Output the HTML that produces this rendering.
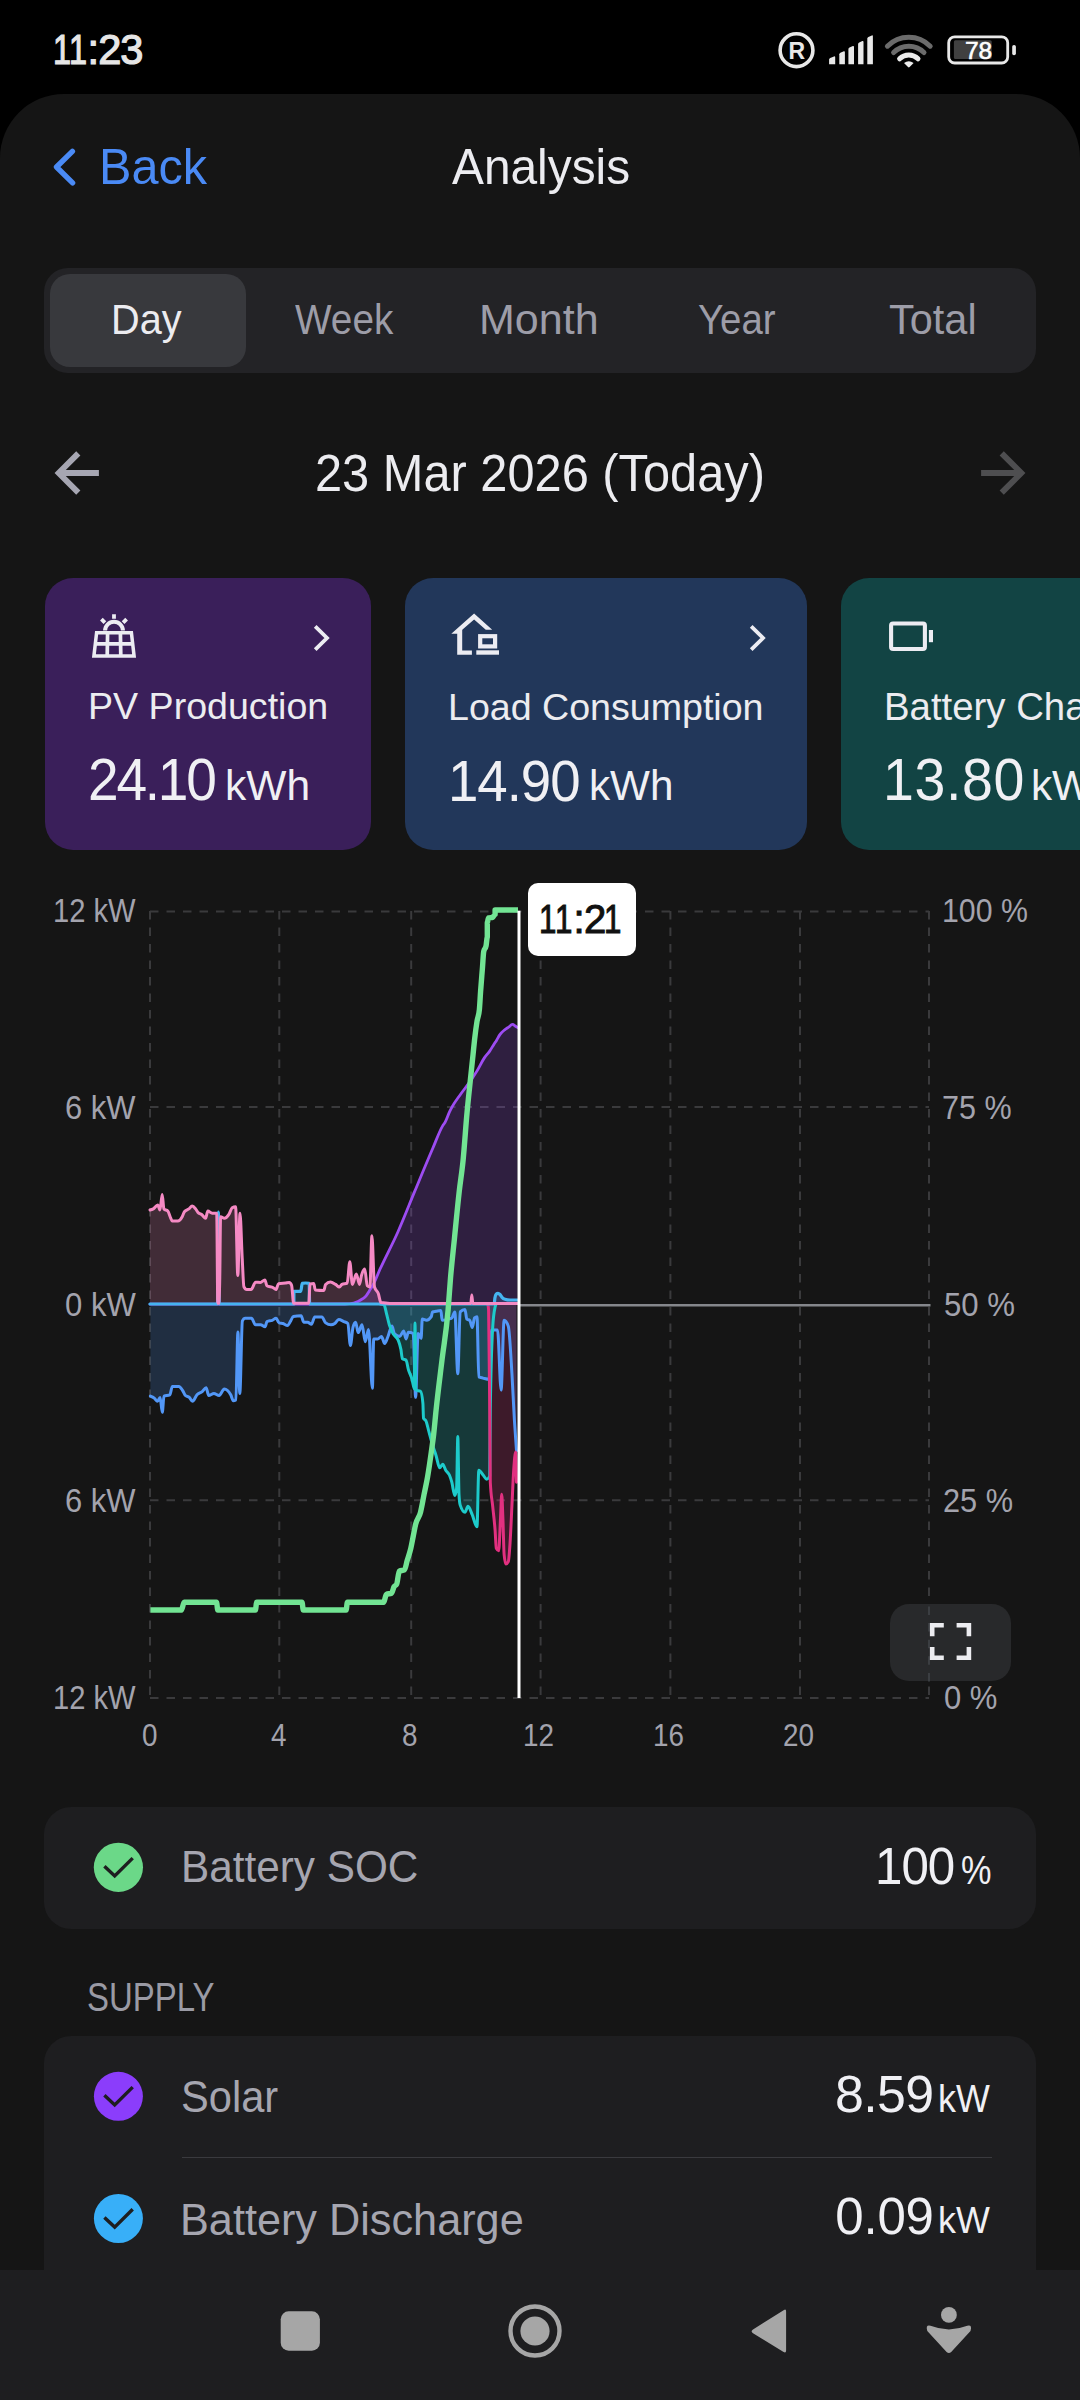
<!DOCTYPE html>
<html><head><meta charset="utf-8">
<title>Analysis</title>
<style>
*{margin:0;padding:0;box-sizing:border-box}
html,body{width:1080px;height:2400px;background:#000;overflow:hidden}
body{position:relative;font-family:"Liberation Sans",Arial,sans-serif;color:#ececf0}
.a{position:absolute}
.t{position:absolute;white-space:nowrap;line-height:1;transform-origin:0 0}
</style></head><body>
<!-- main sheet -->
<div class="a" style="left:0;top:94px;width:1080px;height:2306px;background:#151515;border-radius:64px 64px 0 0"></div>

<!-- status bar icons -->
<svg class="a" style="left:770px;top:25px" width="260" height="50" viewBox="770 25 260 50">
 <circle cx="796.5" cy="50.2" r="16.4" fill="none" stroke="#e8e8e8" stroke-width="3.6"/>
 <text x="796.7" y="58.6" font-family="Liberation Sans" font-weight="bold" font-size="23" fill="#e8e8e8" text-anchor="middle">R</text>
 <g fill="#e8e8e8">
  <path d="M829.1,64.2 V59.6 Q829.1,58.6 830.2,58.1 L834,56.4 Q835.2,56 835.2,57.3 V64.2 Z"/>
  <path d="M839.3,64.2 V54.3 Q839.3,53.3 840.4,52.8 L843.8,51.3 Q844.9,51 844.9,52.2 V64.2 Z"/>
  <path d="M848.4,64.2 V49 Q848.4,48 849.5,47.5 L852.9,46.1 Q854,45.8 854,47 V64.2 Z"/>
  <path d="M858.1,64.2 V43.9 Q858.1,42.9 859.2,42.4 L862.4,41 Q863.5,40.7 863.5,41.9 V64.2 Z"/>
  <path d="M867.3,64.2 V38.4 Q867.3,37.4 868.4,36.9 L871.8,35.4 Q872.9,35.1 872.9,36.3 V64.2 Z"/>
 </g>
 <g fill="none" stroke-linecap="round">
  <path d="M887.4,46.2 A30,30 0 0 1 930.2,46.2" stroke="#6b6b6b" stroke-width="5"/>
  <path d="M893.6,52.6 A21.5,21.5 0 0 1 924,52.6" stroke="#6b6b6b" stroke-width="5"/>
  <path d="M899.6,58.8 A13,13 0 0 1 918,58.8" stroke="#ececec" stroke-width="5"/>
 </g>
 <path d="M904,63 Q908.8,59.5 913.6,63 L909.6,67 Q908.8,67.8 908,67 Z" fill="#ececec"/>
 <rect x="948.7" y="36.8" width="59" height="26.2" rx="6" fill="none" stroke="#e8e8e8" stroke-width="2.8"/>
 <rect x="953.9" y="40.3" width="37.8" height="18.8" rx="1.5" fill="#404040"/>
 <text x="978.4" y="58.9" font-family="Liberation Sans" font-size="24.5" fill="#ffffff" stroke="#ffffff" stroke-width="0.6" text-anchor="middle" letter-spacing="-0.3">78</text>
 <rect x="1012.2" y="44.9" width="3.7" height="10.3" rx="1.8" fill="#e8e8e8"/>
</svg>

<!-- back chevron -->
<svg class="a" style="left:40px;top:140px" width="50" height="55" viewBox="40 140 50 55">
 <path d="M72.4,151.3 L56.5,167 L72.6,182.9" fill="none" stroke="#4a8af5" stroke-width="5.4" stroke-linecap="round" stroke-linejoin="round"/>
</svg>

<!-- tabs -->
<div class="a" style="left:44px;top:268px;width:992px;height:105px;background:#232326;border-radius:24px"></div>
<div class="a" style="left:50px;top:274px;width:196px;height:93px;background:#38393d;border-radius:20px"></div>

<!-- date arrows -->
<svg class="a" style="left:40px;top:440px" width="1000" height="70" viewBox="40 440 1000 70">
 <g fill="none" stroke-width="5.9" stroke-linejoin="miter" stroke-linecap="butt">
  <path d="M98.9,473 H59 M78.3,453.3 L58.7,473 L78.3,492.7" stroke="#a6a6b2"/>
  <path d="M981.1,473 H1021 M1001.7,453.3 L1021.3,473 L1001.7,492.7" stroke="#4e4e50"/>
 </g>
</svg>

<!-- cards -->
<div class="a" style="left:45px;top:578px;width:326px;height:272px;background:#3a1f5a;border-radius:28px"></div>
<div class="a" style="left:405px;top:578px;width:402px;height:272px;background:#22375a;border-radius:28px"></div>
<div class="a" style="left:841px;top:578px;width:300px;height:272px;background:#124444;border-radius:28px"></div>
<svg class="a" style="left:80px;top:600px" width="1000" height="70" viewBox="80 600 1000 70">
 <g fill="none" stroke="#ececf2" stroke-width="3.6">
  <!-- solar panel -->
  <path d="M96.6,632.7 H131.4 L134.1,656 H93.9 Z" stroke-width="3.5" stroke-linejoin="miter"/>
  <path d="M95.3,643.8 H132.7 M107.6,632.7 L107.2,656 M120.4,632.7 L120.8,656" stroke-width="3.7"/>
  <path d="M105.1,630.6 A8.9,8.9 0 0 1 122.9,630.6" stroke-width="4"/>
  <path d="M114,614.2 V618.8 M101.4,619.1 L104.9,622.6 M126.6,619.1 L123.1,622.6" stroke-width="3.8"/>
  <!-- chevrons -->
  <path d="M315.2,626.4 L327,638 L315.2,649.6" stroke-width="3.8"/>
  <path d="M751.2,626.4 L763,638 L751.2,649.6" stroke-width="3.8"/>
  <!-- house -->

  <rect x="480.2" y="636.2" width="14.9" height="10.2" stroke-width="4.2"/>
  <path d="M476.3,652.5 H499" stroke-width="4.4"/>
  <!-- battery -->
  <rect x="891.1" y="623.5" width="33.8" height="25.5" rx="2" stroke-width="4.1"/>
 </g>
 <rect x="928.9" y="630" width="4.1" height="12.2" fill="#ececf2"/>
 <path d="M451.3,633.8 L474.1,613.4 L492.2,629.7 L485.8,629.7 L474.1,619.4 L457.6,633.8 Z" fill="#ececf2"/>
 <path d="M457.2,632 V654.8 H471.9 V650.4 H462.2 V628.5 Z" fill="#ececf2"/>
</svg>

<!-- chart -->
<svg class="a" style="left:0;top:880px" width="1080" height="840" viewBox="0 880 1080 840"><g stroke="#3a3a3c" stroke-width="2" stroke-dasharray="8.5 8" fill="none">
<path d="M150,911 V1699"/>
<path d="M279.3,911 V1699"/>
<path d="M411.2,911 V1699"/>
<path d="M540.6,911 V1699"/>
<path d="M670.4,911 V1699"/>
<path d="M800,911 V1699"/>
<path d="M929,911 V1699"/>
<path d="M150,911.5 H929"/>
<path d="M150,1107 H929"/>
<path d="M150,1500.3 H929"/>
<path d="M150,1698 H929"/>
</g>
<path d="M150.0,1304.0 L150.00,1210.00 C151.10,1209.76 152.20,1209.51 153.30,1208.90 C154.80,1208.06 156.30,1205.00 157.80,1205.00 C158.53,1205.00 159.27,1210.00 160.00,1210.00 C160.73,1210.00 161.47,1194.40 162.20,1194.40 C162.77,1194.40 163.33,1208.29 163.90,1208.90 C165.20,1210.30 166.50,1209.60 167.80,1211.00 C168.73,1212.01 169.67,1215.79 170.60,1217.80 C171.13,1218.95 171.67,1221.00 172.20,1221.00 C174.07,1221.00 175.93,1221.00 177.80,1221.00 C179.27,1221.00 180.73,1219.40 182.20,1216.70 C182.93,1215.35 183.67,1212.61 184.40,1211.70 C185.90,1209.83 187.40,1210.06 188.90,1208.90 C190.00,1208.05 191.10,1206.00 192.20,1206.00 C193.33,1206.00 194.47,1207.49 195.60,1208.90 C196.33,1209.81 197.07,1211.31 197.80,1212.20 C199.27,1213.98 200.73,1213.79 202.20,1215.00 C203.33,1215.93 204.47,1218.30 205.60,1218.30 C206.33,1218.30 207.07,1211.00 207.80,1211.00 C209.27,1211.00 210.73,1213.30 212.20,1213.30 C213.70,1213.30 215.20,1213.30 216.70,1213.30 C217.07,1213.30 217.43,1303.30 217.80,1303.30 C218.33,1303.30 218.87,1303.20 219.40,1303.00 C219.80,1302.85 220.20,1216.70 220.60,1216.70 C221.87,1216.70 223.13,1218.30 224.40,1218.30 C225.90,1218.30 227.40,1216.68 228.90,1214.40 C230.00,1212.73 231.10,1208.51 232.20,1207.80 C233.33,1207.07 234.47,1206.70 235.60,1206.70 C236.33,1206.70 237.07,1275.60 237.80,1275.60 C238.53,1275.60 239.27,1213.30 240.00,1213.30 C240.73,1213.30 241.47,1244.30 242.20,1257.80 C242.77,1268.23 243.33,1285.61 243.90,1286.70 C244.83,1288.50 245.77,1289.40 246.70,1289.40 C248.17,1289.40 249.63,1289.40 251.10,1289.40 C252.60,1289.40 254.10,1282.20 255.60,1282.20 C257.20,1282.20 258.80,1282.50 260.40,1282.50 C261.90,1282.50 263.40,1279.90 264.90,1279.90 C265.57,1279.90 266.23,1285.28 266.90,1285.70 C269.03,1287.03 271.17,1286.40 273.30,1287.70 C274.17,1288.23 275.03,1289.60 275.90,1289.60 C276.77,1289.60 277.63,1284.00 278.50,1283.80 C280.87,1283.27 283.23,1283.30 285.60,1283.00 C286.83,1282.84 288.07,1282.50 289.30,1282.50 C290.07,1282.50 290.83,1283.43 291.60,1285.30 C291.90,1286.03 292.20,1290.10 292.50,1293.10 C292.80,1296.10 293.10,1303.30 293.40,1303.30 C298.50,1303.30 303.60,1303.30 308.70,1303.30 C309.17,1303.30 309.63,1284.03 310.10,1283.90 C311.33,1283.57 312.57,1283.40 313.80,1283.40 C314.27,1283.40 314.73,1289.85 315.20,1289.90 C318.13,1290.23 321.07,1290.40 324.00,1290.40 C324.47,1290.40 324.93,1285.34 325.40,1284.80 C327.07,1282.87 328.73,1281.90 330.40,1281.90 C332.13,1281.90 333.87,1283.36 335.60,1284.40 C336.87,1285.16 338.13,1287.00 339.40,1287.00 C340.27,1287.00 341.13,1284.83 342.00,1284.40 C343.73,1283.53 345.47,1283.97 347.20,1283.10 C348.07,1282.67 348.93,1261.80 349.80,1261.80 C350.67,1261.80 351.53,1284.40 352.40,1284.40 C353.70,1284.40 355.00,1274.10 356.30,1274.10 C357.37,1274.10 358.43,1284.40 359.50,1284.40 C360.17,1284.40 360.83,1277.77 361.50,1275.40 C362.57,1271.61 363.63,1268.90 364.70,1268.90 C365.57,1268.90 366.43,1284.83 367.30,1285.70 C368.17,1286.57 369.03,1287.00 369.90,1287.00 C370.57,1287.00 371.23,1235.80 371.90,1235.80 C372.77,1235.80 373.63,1284.04 374.50,1287.00 C375.77,1291.33 377.03,1289.99 378.30,1293.50 C379.17,1295.90 380.03,1302.45 380.90,1302.60 C383.93,1303.13 386.97,1303.40 390.00,1303.40 C416.93,1303.40 443.87,1303.40 470.80,1303.40 C471.13,1303.40 471.47,1295.00 471.80,1295.00 C472.13,1295.00 472.47,1303.40 472.80,1303.40 C487.70,1303.40 502.60,1303.40 517.50,1303.40 L517.5,1304.0 Z" fill="#f58ac4" fill-opacity="0.2"/>
<path d="M150.0,1304.0 L150.00,1304.00 C172.53,1304.00 195.07,1304.00 217.60,1304.00 C217.87,1304.00 218.13,1212.00 218.40,1212.00 C218.70,1212.00 219.00,1304.00 219.30,1304.00 C244.17,1304.00 269.03,1304.00 293.90,1304.00 L293.90,1291.30 C296.20,1291.30 298.50,1291.30 300.80,1291.30 C301.27,1291.30 301.73,1283.51 302.20,1283.40 C303.30,1283.13 304.40,1283.00 305.50,1283.00 C306.73,1283.00 307.97,1283.13 309.20,1283.40 C309.33,1283.43 309.47,1304.00 309.60,1304.00 C371.13,1304.00 432.67,1304.00 494.20,1304.00 C494.43,1304.00 494.67,1299.36 494.90,1298.00 C495.33,1295.47 495.77,1294.63 496.20,1294.20 C496.80,1293.60 497.40,1293.30 498.00,1293.30 C498.67,1293.30 499.33,1293.83 500.00,1294.50 C500.67,1295.17 501.33,1296.57 502.00,1297.30 C503.00,1298.39 504.00,1298.88 505.00,1299.20 C506.67,1299.73 508.33,1300.00 510.00,1300.00 C512.50,1300.00 515.00,1300.00 517.50,1300.00 L517.5,1304.0 Z" fill="#45b4f0" fill-opacity="0.2"/>
<path d="M150.0,1304.0 L150.00,1304.20 C215.00,1304.17 280.00,1304.13 345.00,1304.00 C347.90,1303.99 350.80,1303.67 353.70,1303.00 C355.13,1302.67 356.57,1302.16 358.00,1301.50 C359.60,1300.76 361.20,1299.91 362.80,1298.70 C363.97,1297.82 365.13,1297.06 366.30,1295.60 C367.30,1294.35 368.30,1292.48 369.30,1290.90 C370.53,1288.95 371.77,1287.25 373.00,1285.00 C375.33,1280.74 377.67,1274.35 380.00,1269.20 C386.00,1255.95 392.00,1245.23 398.00,1231.70 C403.57,1219.15 409.13,1204.75 414.70,1191.40 C420.73,1176.93 426.77,1162.30 432.80,1148.30 C436.03,1140.80 439.27,1131.52 442.50,1126.10 C443.43,1124.54 444.37,1123.63 445.30,1121.90 C446.67,1119.37 448.03,1115.11 449.40,1112.20 C450.33,1110.21 451.27,1108.42 452.20,1106.70 C455.00,1101.53 457.80,1098.15 460.60,1094.20 C463.37,1090.29 466.13,1087.03 468.90,1083.10 C471.67,1079.17 474.43,1075.19 477.20,1070.60 C479.53,1066.73 481.87,1061.60 484.20,1058.10 C486.03,1055.35 487.87,1053.77 489.70,1051.10 C491.13,1049.01 492.57,1046.42 494.00,1044.20 C494.83,1042.91 495.67,1041.73 496.50,1040.40 C497.63,1038.59 498.77,1036.20 499.90,1034.60 C501.50,1032.34 503.10,1031.10 504.70,1029.80 C505.90,1028.83 507.10,1028.23 508.30,1027.40 C509.70,1026.44 511.10,1024.40 512.50,1024.40 C513.53,1024.40 514.57,1025.54 515.60,1026.20 C516.20,1026.58 516.80,1026.99 517.40,1027.40 L517.4,1304.0 Z" fill="#9d4cf2" fill-opacity="0.2"/>
<path d="M150.4,1304.0 L150.40,1396.10 C151.70,1396.59 153.00,1397.09 154.30,1398.10 C155.37,1398.93 156.43,1401.30 157.50,1401.30 C158.37,1401.30 159.23,1397.40 160.10,1397.40 C160.83,1397.40 161.57,1412.30 162.30,1412.30 C162.87,1412.30 163.43,1396.35 164.00,1396.10 C165.93,1395.23 167.87,1395.67 169.80,1394.80 C170.67,1394.41 171.53,1386.40 172.40,1386.40 C174.57,1386.40 176.73,1386.40 178.90,1386.40 C180.20,1386.40 181.50,1388.92 182.80,1390.90 C183.67,1392.22 184.53,1394.66 185.40,1395.50 C186.70,1396.77 188.00,1396.24 189.30,1397.40 C190.37,1398.35 191.43,1401.30 192.50,1401.30 C194.00,1401.30 195.50,1396.39 197.00,1394.80 C198.73,1392.96 200.47,1393.05 202.20,1391.60 C203.50,1390.51 204.80,1387.70 206.10,1387.70 C206.97,1387.70 207.83,1395.50 208.70,1395.50 C210.43,1395.50 212.17,1393.50 213.90,1393.50 C215.63,1393.50 217.37,1395.50 219.10,1395.50 C220.83,1395.50 222.57,1389.00 224.30,1389.00 C226.43,1389.00 228.57,1390.93 230.70,1394.80 C231.57,1396.37 232.43,1400.70 233.30,1400.70 C234.17,1400.70 235.03,1400.47 235.90,1400.00 C236.57,1399.64 237.23,1332.00 237.90,1332.00 C238.53,1332.00 239.17,1393.50 239.80,1393.50 C240.67,1393.50 241.53,1322.63 242.40,1320.90 C243.27,1319.17 244.13,1318.30 245.00,1318.30 C247.17,1318.30 249.33,1318.30 251.50,1318.30 C252.80,1318.30 254.10,1324.80 255.40,1324.80 C257.13,1324.80 258.87,1324.80 260.60,1324.80 C262.10,1324.80 263.60,1326.80 265.10,1326.80 C265.73,1326.80 266.37,1321.92 267.00,1321.60 C268.73,1320.73 270.47,1320.99 272.20,1320.30 C273.50,1319.78 274.80,1318.30 276.10,1318.30 C277.10,1318.30 278.10,1322.59 279.10,1322.90 C280.40,1323.30 281.70,1323.12 283.00,1323.50 C284.50,1323.93 286.00,1325.50 287.50,1325.50 C288.57,1325.50 289.63,1322.61 290.70,1320.90 C291.57,1319.51 292.43,1316.56 293.30,1316.40 C295.90,1315.93 298.50,1315.70 301.10,1315.70 C301.97,1315.70 302.83,1322.20 303.70,1322.20 C305.00,1322.20 306.30,1322.20 307.60,1322.20 C308.90,1322.20 310.20,1324.20 311.50,1324.20 C312.57,1324.20 313.63,1317.00 314.70,1317.00 C317.10,1317.00 319.50,1317.00 321.90,1317.00 C323.17,1317.00 324.43,1321.97 325.70,1322.90 C327.43,1324.17 329.17,1324.80 330.90,1324.80 C332.20,1324.80 333.50,1324.37 334.80,1323.50 C336.10,1322.63 337.40,1319.60 338.70,1319.60 C340.43,1319.60 342.17,1320.83 343.90,1321.60 C345.20,1322.18 346.50,1322.23 347.80,1323.50 C348.67,1324.34 349.53,1345.60 350.40,1345.60 C351.27,1345.60 352.13,1330.87 353.00,1327.40 C353.87,1323.93 354.73,1322.20 355.60,1322.20 C356.47,1322.20 357.33,1332.60 358.20,1332.60 C359.47,1332.60 360.73,1324.80 362.00,1324.80 C363.10,1324.80 364.20,1341.70 365.30,1341.70 C366.37,1341.70 367.43,1329.40 368.50,1329.40 C369.80,1329.40 371.10,1388.30 372.40,1388.30 C372.83,1388.30 373.27,1339.10 373.70,1339.10 C375.00,1339.10 376.30,1339.10 377.60,1339.10 C378.90,1339.10 380.20,1336.50 381.50,1336.50 C382.57,1336.50 383.63,1343.60 384.70,1343.60 C385.80,1343.60 386.90,1339.13 388.00,1336.50 C389.30,1333.40 390.60,1326.10 391.90,1326.10 C392.77,1326.10 393.63,1333.02 394.50,1333.90 C396.20,1335.63 397.90,1336.50 399.60,1336.50 C400.93,1336.50 402.27,1331.10 403.60,1331.10 C404.40,1331.10 405.20,1338.90 406.00,1338.90 C406.80,1338.90 407.60,1332.30 408.40,1332.30 C410.00,1332.30 411.60,1332.70 413.20,1333.50 C414.00,1333.90 414.80,1397.30 415.60,1397.30 C416.43,1397.30 417.27,1333.50 418.10,1333.50 C419.10,1333.50 420.10,1338.30 421.10,1338.30 C421.50,1338.30 421.90,1319.10 422.30,1319.10 C423.70,1319.10 425.10,1320.30 426.50,1320.30 C428.10,1320.30 429.70,1319.10 431.30,1316.70 C431.70,1316.10 432.10,1312.03 432.50,1311.90 C433.70,1311.50 434.90,1311.49 436.10,1311.30 C437.70,1311.05 439.30,1310.60 440.90,1310.60 C441.30,1310.60 441.70,1320.30 442.10,1320.30 C444.10,1320.30 446.10,1319.65 448.10,1319.10 C449.33,1318.76 450.57,1318.70 451.80,1317.90 C452.80,1317.25 453.80,1311.90 454.80,1311.90 C455.80,1311.90 456.80,1373.80 457.80,1373.80 C458.60,1373.80 459.40,1312.73 460.20,1311.90 C461.80,1310.23 463.40,1309.40 465.00,1309.40 C465.60,1309.40 466.20,1318.62 466.80,1319.10 C467.80,1319.90 468.80,1319.50 469.80,1320.30 C470.60,1320.94 471.40,1327.50 472.20,1327.50 C473.00,1327.50 473.80,1318.70 474.60,1317.90 C475.40,1317.10 476.20,1316.70 477.00,1316.70 C477.60,1316.70 478.20,1376.57 478.80,1376.90 C480.23,1377.70 481.67,1377.75 483.10,1378.10 C485.10,1378.59 487.10,1379.30 489.10,1379.30 C489.90,1379.30 490.70,1329.90 491.50,1329.90 C493.50,1329.90 495.50,1329.90 497.50,1329.90 C498.70,1329.90 499.90,1390.10 501.10,1390.10 C502.10,1390.10 503.10,1320.30 504.10,1320.30 C505.50,1320.30 506.90,1322.30 508.30,1326.30 C509.50,1329.73 510.70,1353.54 511.90,1373.20 C512.73,1386.86 513.57,1406.19 514.40,1420.00 C515.10,1431.60 515.80,1441.30 516.50,1451.00 L516.5,1304.0 Z" fill="#5297f7" fill-opacity="0.2"/>
<path d="M380.5,1304.0 L380.50,1304.00 C381.70,1304.17 382.90,1304.33 384.10,1305.00 C384.97,1305.48 385.83,1311.10 386.70,1314.40 C387.57,1317.70 388.43,1321.91 389.30,1324.80 C390.60,1329.13 391.90,1331.46 393.20,1333.90 C394.90,1337.09 396.60,1336.07 398.30,1340.40 C399.17,1342.61 400.03,1344.86 400.90,1349.40 C401.40,1352.02 401.90,1358.47 402.40,1358.80 C403.60,1359.60 404.80,1359.20 406.00,1360.00 C406.80,1360.53 407.60,1366.82 408.40,1369.60 C409.60,1373.77 410.80,1375.13 412.00,1379.30 C412.80,1382.08 413.60,1388.90 414.40,1388.90 C414.60,1388.90 414.80,1323.00 415.00,1323.00 C415.27,1323.00 415.53,1389.85 415.80,1390.00 C417.37,1390.87 418.93,1390.43 420.50,1391.30 C421.30,1391.74 422.10,1395.30 422.90,1403.30 C423.10,1405.30 423.30,1418.00 423.50,1418.40 C424.30,1420.00 425.10,1419.20 425.90,1420.80 C426.90,1422.80 427.90,1428.05 428.90,1431.70 C430.10,1436.08 431.30,1440.90 432.50,1444.90 C433.70,1448.90 434.90,1451.88 436.10,1455.70 C437.30,1459.52 438.50,1467.80 439.70,1467.80 C440.70,1467.80 441.70,1464.20 442.70,1464.20 C443.70,1464.20 444.70,1468.51 445.70,1470.20 C446.93,1472.28 448.17,1472.13 449.40,1475.00 C450.20,1476.86 451.00,1479.29 451.80,1482.20 C452.80,1485.84 453.80,1495.50 454.80,1495.50 C455.40,1495.50 456.00,1493.07 456.60,1488.20 C457.00,1484.96 457.40,1436.50 457.80,1436.50 C458.20,1436.50 458.60,1487.10 459.00,1494.30 C459.40,1501.50 459.80,1503.90 460.20,1505.10 C461.80,1509.90 463.40,1512.30 465.00,1512.30 C466.00,1512.30 467.00,1506.30 468.00,1506.30 C469.40,1506.30 470.80,1511.56 472.20,1514.70 C473.80,1518.29 475.40,1526.80 477.00,1526.80 C477.60,1526.80 478.20,1470.20 478.80,1470.20 C480.23,1470.20 481.67,1473.36 483.10,1475.00 C484.30,1476.37 485.50,1479.20 486.70,1479.20 C487.70,1479.20 488.70,1478.20 489.70,1476.20 C489.90,1475.80 490.10,1423.75 490.30,1410.00 C491.10,1355.00 491.90,1341.17 492.70,1327.50 C493.50,1313.83 494.30,1310.61 495.10,1307.00 C495.50,1305.19 495.90,1304.60 496.30,1304.00 L496.3,1304.0 Z" fill="#1dcbcb" fill-opacity="0.2"/>
<path d="M487.8,1304.0 L487.80,1304.00 C488.07,1305.00 488.33,1306.00 488.60,1310.00 C488.97,1315.50 489.33,1369.69 489.70,1410.00 C489.90,1431.99 490.10,1478.18 490.30,1482.20 C491.10,1498.27 491.90,1498.27 492.70,1506.30 C493.50,1514.33 494.30,1519.72 495.10,1530.40 C495.50,1535.74 495.90,1547.60 496.30,1548.40 C497.10,1550.00 497.90,1550.80 498.70,1550.80 C499.30,1550.80 499.90,1529.83 500.50,1518.30 C500.90,1510.61 501.30,1494.30 501.70,1494.30 C502.10,1494.30 502.50,1508.28 502.90,1518.30 C503.30,1528.32 503.70,1550.09 504.10,1554.40 C504.70,1560.87 505.30,1564.10 505.90,1564.10 C506.70,1564.10 507.50,1563.30 508.30,1561.70 C508.90,1560.50 509.50,1551.63 510.10,1542.40 C510.70,1533.17 511.30,1518.33 511.90,1506.30 C512.50,1494.27 513.10,1479.16 513.70,1470.20 C514.33,1460.74 514.97,1452.10 515.60,1452.10 C515.90,1452.10 516.20,1467.15 516.50,1482.20 L516.5,1304.0 Z" fill="#e23080" fill-opacity="0.2"/>
<path d="M518,1305.3 H930.5" stroke="#85878c" stroke-width="2.5"/>
<path d="M150.40,1396.10 C151.70,1396.59 153.00,1397.09 154.30,1398.10 C155.37,1398.93 156.43,1401.30 157.50,1401.30 C158.37,1401.30 159.23,1397.40 160.10,1397.40 C160.83,1397.40 161.57,1412.30 162.30,1412.30 C162.87,1412.30 163.43,1396.35 164.00,1396.10 C165.93,1395.23 167.87,1395.67 169.80,1394.80 C170.67,1394.41 171.53,1386.40 172.40,1386.40 C174.57,1386.40 176.73,1386.40 178.90,1386.40 C180.20,1386.40 181.50,1388.92 182.80,1390.90 C183.67,1392.22 184.53,1394.66 185.40,1395.50 C186.70,1396.77 188.00,1396.24 189.30,1397.40 C190.37,1398.35 191.43,1401.30 192.50,1401.30 C194.00,1401.30 195.50,1396.39 197.00,1394.80 C198.73,1392.96 200.47,1393.05 202.20,1391.60 C203.50,1390.51 204.80,1387.70 206.10,1387.70 C206.97,1387.70 207.83,1395.50 208.70,1395.50 C210.43,1395.50 212.17,1393.50 213.90,1393.50 C215.63,1393.50 217.37,1395.50 219.10,1395.50 C220.83,1395.50 222.57,1389.00 224.30,1389.00 C226.43,1389.00 228.57,1390.93 230.70,1394.80 C231.57,1396.37 232.43,1400.70 233.30,1400.70 C234.17,1400.70 235.03,1400.47 235.90,1400.00 C236.57,1399.64 237.23,1332.00 237.90,1332.00 C238.53,1332.00 239.17,1393.50 239.80,1393.50 C240.67,1393.50 241.53,1322.63 242.40,1320.90 C243.27,1319.17 244.13,1318.30 245.00,1318.30 C247.17,1318.30 249.33,1318.30 251.50,1318.30 C252.80,1318.30 254.10,1324.80 255.40,1324.80 C257.13,1324.80 258.87,1324.80 260.60,1324.80 C262.10,1324.80 263.60,1326.80 265.10,1326.80 C265.73,1326.80 266.37,1321.92 267.00,1321.60 C268.73,1320.73 270.47,1320.99 272.20,1320.30 C273.50,1319.78 274.80,1318.30 276.10,1318.30 C277.10,1318.30 278.10,1322.59 279.10,1322.90 C280.40,1323.30 281.70,1323.12 283.00,1323.50 C284.50,1323.93 286.00,1325.50 287.50,1325.50 C288.57,1325.50 289.63,1322.61 290.70,1320.90 C291.57,1319.51 292.43,1316.56 293.30,1316.40 C295.90,1315.93 298.50,1315.70 301.10,1315.70 C301.97,1315.70 302.83,1322.20 303.70,1322.20 C305.00,1322.20 306.30,1322.20 307.60,1322.20 C308.90,1322.20 310.20,1324.20 311.50,1324.20 C312.57,1324.20 313.63,1317.00 314.70,1317.00 C317.10,1317.00 319.50,1317.00 321.90,1317.00 C323.17,1317.00 324.43,1321.97 325.70,1322.90 C327.43,1324.17 329.17,1324.80 330.90,1324.80 C332.20,1324.80 333.50,1324.37 334.80,1323.50 C336.10,1322.63 337.40,1319.60 338.70,1319.60 C340.43,1319.60 342.17,1320.83 343.90,1321.60 C345.20,1322.18 346.50,1322.23 347.80,1323.50 C348.67,1324.34 349.53,1345.60 350.40,1345.60 C351.27,1345.60 352.13,1330.87 353.00,1327.40 C353.87,1323.93 354.73,1322.20 355.60,1322.20 C356.47,1322.20 357.33,1332.60 358.20,1332.60 C359.47,1332.60 360.73,1324.80 362.00,1324.80 C363.10,1324.80 364.20,1341.70 365.30,1341.70 C366.37,1341.70 367.43,1329.40 368.50,1329.40 C369.80,1329.40 371.10,1388.30 372.40,1388.30 C372.83,1388.30 373.27,1339.10 373.70,1339.10 C375.00,1339.10 376.30,1339.10 377.60,1339.10 C378.90,1339.10 380.20,1336.50 381.50,1336.50 C382.57,1336.50 383.63,1343.60 384.70,1343.60 C385.80,1343.60 386.90,1339.13 388.00,1336.50 C389.30,1333.40 390.60,1326.10 391.90,1326.10 C392.77,1326.10 393.63,1333.02 394.50,1333.90 C396.20,1335.63 397.90,1336.50 399.60,1336.50 C400.93,1336.50 402.27,1331.10 403.60,1331.10 C404.40,1331.10 405.20,1338.90 406.00,1338.90 C406.80,1338.90 407.60,1332.30 408.40,1332.30 C410.00,1332.30 411.60,1332.70 413.20,1333.50 C414.00,1333.90 414.80,1397.30 415.60,1397.30 C416.43,1397.30 417.27,1333.50 418.10,1333.50 C419.10,1333.50 420.10,1338.30 421.10,1338.30 C421.50,1338.30 421.90,1319.10 422.30,1319.10 C423.70,1319.10 425.10,1320.30 426.50,1320.30 C428.10,1320.30 429.70,1319.10 431.30,1316.70 C431.70,1316.10 432.10,1312.03 432.50,1311.90 C433.70,1311.50 434.90,1311.49 436.10,1311.30 C437.70,1311.05 439.30,1310.60 440.90,1310.60 C441.30,1310.60 441.70,1320.30 442.10,1320.30 C444.10,1320.30 446.10,1319.65 448.10,1319.10 C449.33,1318.76 450.57,1318.70 451.80,1317.90 C452.80,1317.25 453.80,1311.90 454.80,1311.90 C455.80,1311.90 456.80,1373.80 457.80,1373.80 C458.60,1373.80 459.40,1312.73 460.20,1311.90 C461.80,1310.23 463.40,1309.40 465.00,1309.40 C465.60,1309.40 466.20,1318.62 466.80,1319.10 C467.80,1319.90 468.80,1319.50 469.80,1320.30 C470.60,1320.94 471.40,1327.50 472.20,1327.50 C473.00,1327.50 473.80,1318.70 474.60,1317.90 C475.40,1317.10 476.20,1316.70 477.00,1316.70 C477.60,1316.70 478.20,1376.57 478.80,1376.90 C480.23,1377.70 481.67,1377.75 483.10,1378.10 C485.10,1378.59 487.10,1379.30 489.10,1379.30 C489.90,1379.30 490.70,1329.90 491.50,1329.90 C493.50,1329.90 495.50,1329.90 497.50,1329.90 C498.70,1329.90 499.90,1390.10 501.10,1390.10 C502.10,1390.10 503.10,1320.30 504.10,1320.30 C505.50,1320.30 506.90,1322.30 508.30,1326.30 C509.50,1329.73 510.70,1353.54 511.90,1373.20 C512.73,1386.86 513.57,1406.19 514.40,1420.00 C515.10,1431.60 515.80,1441.30 516.50,1451.00" fill="none" stroke="#5297f7" stroke-width="3" stroke-linejoin="round" stroke-linecap="round"/>
<path d="M380.50,1304.00 C381.70,1304.17 382.90,1304.33 384.10,1305.00 C384.97,1305.48 385.83,1311.10 386.70,1314.40 C387.57,1317.70 388.43,1321.91 389.30,1324.80 C390.60,1329.13 391.90,1331.46 393.20,1333.90 C394.90,1337.09 396.60,1336.07 398.30,1340.40 C399.17,1342.61 400.03,1344.86 400.90,1349.40 C401.40,1352.02 401.90,1358.47 402.40,1358.80 C403.60,1359.60 404.80,1359.20 406.00,1360.00 C406.80,1360.53 407.60,1366.82 408.40,1369.60 C409.60,1373.77 410.80,1375.13 412.00,1379.30 C412.80,1382.08 413.60,1388.90 414.40,1388.90 C414.60,1388.90 414.80,1323.00 415.00,1323.00 C415.27,1323.00 415.53,1389.85 415.80,1390.00 C417.37,1390.87 418.93,1390.43 420.50,1391.30 C421.30,1391.74 422.10,1395.30 422.90,1403.30 C423.10,1405.30 423.30,1418.00 423.50,1418.40 C424.30,1420.00 425.10,1419.20 425.90,1420.80 C426.90,1422.80 427.90,1428.05 428.90,1431.70 C430.10,1436.08 431.30,1440.90 432.50,1444.90 C433.70,1448.90 434.90,1451.88 436.10,1455.70 C437.30,1459.52 438.50,1467.80 439.70,1467.80 C440.70,1467.80 441.70,1464.20 442.70,1464.20 C443.70,1464.20 444.70,1468.51 445.70,1470.20 C446.93,1472.28 448.17,1472.13 449.40,1475.00 C450.20,1476.86 451.00,1479.29 451.80,1482.20 C452.80,1485.84 453.80,1495.50 454.80,1495.50 C455.40,1495.50 456.00,1493.07 456.60,1488.20 C457.00,1484.96 457.40,1436.50 457.80,1436.50 C458.20,1436.50 458.60,1487.10 459.00,1494.30 C459.40,1501.50 459.80,1503.90 460.20,1505.10 C461.80,1509.90 463.40,1512.30 465.00,1512.30 C466.00,1512.30 467.00,1506.30 468.00,1506.30 C469.40,1506.30 470.80,1511.56 472.20,1514.70 C473.80,1518.29 475.40,1526.80 477.00,1526.80 C477.60,1526.80 478.20,1470.20 478.80,1470.20 C480.23,1470.20 481.67,1473.36 483.10,1475.00 C484.30,1476.37 485.50,1479.20 486.70,1479.20 C487.70,1479.20 488.70,1478.20 489.70,1476.20 C489.90,1475.80 490.10,1423.75 490.30,1410.00 C491.10,1355.00 491.90,1341.17 492.70,1327.50 C493.50,1313.83 494.30,1310.61 495.10,1307.00 C495.50,1305.19 495.90,1304.60 496.30,1304.00" fill="none" stroke="#1dcbcb" stroke-width="3" stroke-linejoin="round" stroke-linecap="round"/>
<path d="M487.80,1304.00 C488.07,1305.00 488.33,1306.00 488.60,1310.00 C488.97,1315.50 489.33,1369.69 489.70,1410.00 C489.90,1431.99 490.10,1478.18 490.30,1482.20 C491.10,1498.27 491.90,1498.27 492.70,1506.30 C493.50,1514.33 494.30,1519.72 495.10,1530.40 C495.50,1535.74 495.90,1547.60 496.30,1548.40 C497.10,1550.00 497.90,1550.80 498.70,1550.80 C499.30,1550.80 499.90,1529.83 500.50,1518.30 C500.90,1510.61 501.30,1494.30 501.70,1494.30 C502.10,1494.30 502.50,1508.28 502.90,1518.30 C503.30,1528.32 503.70,1550.09 504.10,1554.40 C504.70,1560.87 505.30,1564.10 505.90,1564.10 C506.70,1564.10 507.50,1563.30 508.30,1561.70 C508.90,1560.50 509.50,1551.63 510.10,1542.40 C510.70,1533.17 511.30,1518.33 511.90,1506.30 C512.50,1494.27 513.10,1479.16 513.70,1470.20 C514.33,1460.74 514.97,1452.10 515.60,1452.10 C515.90,1452.10 516.20,1467.15 516.50,1482.20" fill="none" stroke="#e23080" stroke-width="3" stroke-linejoin="round" stroke-linecap="round"/>
<path d="M150.00,1304.20 C215.00,1304.17 280.00,1304.13 345.00,1304.00 C347.90,1303.99 350.80,1303.67 353.70,1303.00 C355.13,1302.67 356.57,1302.16 358.00,1301.50 C359.60,1300.76 361.20,1299.91 362.80,1298.70 C363.97,1297.82 365.13,1297.06 366.30,1295.60 C367.30,1294.35 368.30,1292.48 369.30,1290.90 C370.53,1288.95 371.77,1287.25 373.00,1285.00 C375.33,1280.74 377.67,1274.35 380.00,1269.20 C386.00,1255.95 392.00,1245.23 398.00,1231.70 C403.57,1219.15 409.13,1204.75 414.70,1191.40 C420.73,1176.93 426.77,1162.30 432.80,1148.30 C436.03,1140.80 439.27,1131.52 442.50,1126.10 C443.43,1124.54 444.37,1123.63 445.30,1121.90 C446.67,1119.37 448.03,1115.11 449.40,1112.20 C450.33,1110.21 451.27,1108.42 452.20,1106.70 C455.00,1101.53 457.80,1098.15 460.60,1094.20 C463.37,1090.29 466.13,1087.03 468.90,1083.10 C471.67,1079.17 474.43,1075.19 477.20,1070.60 C479.53,1066.73 481.87,1061.60 484.20,1058.10 C486.03,1055.35 487.87,1053.77 489.70,1051.10 C491.13,1049.01 492.57,1046.42 494.00,1044.20 C494.83,1042.91 495.67,1041.73 496.50,1040.40 C497.63,1038.59 498.77,1036.20 499.90,1034.60 C501.50,1032.34 503.10,1031.10 504.70,1029.80 C505.90,1028.83 507.10,1028.23 508.30,1027.40 C509.70,1026.44 511.10,1024.40 512.50,1024.40 C513.53,1024.40 514.57,1025.54 515.60,1026.20 C516.20,1026.58 516.80,1026.99 517.40,1027.40" fill="none" stroke="#9d4cf2" stroke-width="2.8" stroke-linejoin="round" stroke-linecap="round"/>
<path d="M150.00,1304.00 C172.53,1304.00 195.07,1304.00 217.60,1304.00 C217.87,1304.00 218.13,1212.00 218.40,1212.00 C218.70,1212.00 219.00,1304.00 219.30,1304.00 C244.17,1304.00 269.03,1304.00 293.90,1304.00 L293.90,1291.30 C296.20,1291.30 298.50,1291.30 300.80,1291.30 C301.27,1291.30 301.73,1283.51 302.20,1283.40 C303.30,1283.13 304.40,1283.00 305.50,1283.00 C306.73,1283.00 307.97,1283.13 309.20,1283.40 C309.33,1283.43 309.47,1304.00 309.60,1304.00 C371.13,1304.00 432.67,1304.00 494.20,1304.00 C494.43,1304.00 494.67,1299.36 494.90,1298.00 C495.33,1295.47 495.77,1294.63 496.20,1294.20 C496.80,1293.60 497.40,1293.30 498.00,1293.30 C498.67,1293.30 499.33,1293.83 500.00,1294.50 C500.67,1295.17 501.33,1296.57 502.00,1297.30 C503.00,1298.39 504.00,1298.88 505.00,1299.20 C506.67,1299.73 508.33,1300.00 510.00,1300.00 C512.50,1300.00 515.00,1300.00 517.50,1300.00" fill="none" stroke="#45b4f0" stroke-width="3.2" stroke-linejoin="round" stroke-linecap="round"/>
<path d="M150.00,1210.00 C151.10,1209.76 152.20,1209.51 153.30,1208.90 C154.80,1208.06 156.30,1205.00 157.80,1205.00 C158.53,1205.00 159.27,1210.00 160.00,1210.00 C160.73,1210.00 161.47,1194.40 162.20,1194.40 C162.77,1194.40 163.33,1208.29 163.90,1208.90 C165.20,1210.30 166.50,1209.60 167.80,1211.00 C168.73,1212.01 169.67,1215.79 170.60,1217.80 C171.13,1218.95 171.67,1221.00 172.20,1221.00 C174.07,1221.00 175.93,1221.00 177.80,1221.00 C179.27,1221.00 180.73,1219.40 182.20,1216.70 C182.93,1215.35 183.67,1212.61 184.40,1211.70 C185.90,1209.83 187.40,1210.06 188.90,1208.90 C190.00,1208.05 191.10,1206.00 192.20,1206.00 C193.33,1206.00 194.47,1207.49 195.60,1208.90 C196.33,1209.81 197.07,1211.31 197.80,1212.20 C199.27,1213.98 200.73,1213.79 202.20,1215.00 C203.33,1215.93 204.47,1218.30 205.60,1218.30 C206.33,1218.30 207.07,1211.00 207.80,1211.00 C209.27,1211.00 210.73,1213.30 212.20,1213.30 C213.70,1213.30 215.20,1213.30 216.70,1213.30 C217.07,1213.30 217.43,1303.30 217.80,1303.30 C218.33,1303.30 218.87,1303.20 219.40,1303.00 C219.80,1302.85 220.20,1216.70 220.60,1216.70 C221.87,1216.70 223.13,1218.30 224.40,1218.30 C225.90,1218.30 227.40,1216.68 228.90,1214.40 C230.00,1212.73 231.10,1208.51 232.20,1207.80 C233.33,1207.07 234.47,1206.70 235.60,1206.70 C236.33,1206.70 237.07,1275.60 237.80,1275.60 C238.53,1275.60 239.27,1213.30 240.00,1213.30 C240.73,1213.30 241.47,1244.30 242.20,1257.80 C242.77,1268.23 243.33,1285.61 243.90,1286.70 C244.83,1288.50 245.77,1289.40 246.70,1289.40 C248.17,1289.40 249.63,1289.40 251.10,1289.40 C252.60,1289.40 254.10,1282.20 255.60,1282.20 C257.20,1282.20 258.80,1282.50 260.40,1282.50 C261.90,1282.50 263.40,1279.90 264.90,1279.90 C265.57,1279.90 266.23,1285.28 266.90,1285.70 C269.03,1287.03 271.17,1286.40 273.30,1287.70 C274.17,1288.23 275.03,1289.60 275.90,1289.60 C276.77,1289.60 277.63,1284.00 278.50,1283.80 C280.87,1283.27 283.23,1283.30 285.60,1283.00 C286.83,1282.84 288.07,1282.50 289.30,1282.50 C290.07,1282.50 290.83,1283.43 291.60,1285.30 C291.90,1286.03 292.20,1290.10 292.50,1293.10 C292.80,1296.10 293.10,1303.30 293.40,1303.30 C298.50,1303.30 303.60,1303.30 308.70,1303.30 C309.17,1303.30 309.63,1284.03 310.10,1283.90 C311.33,1283.57 312.57,1283.40 313.80,1283.40 C314.27,1283.40 314.73,1289.85 315.20,1289.90 C318.13,1290.23 321.07,1290.40 324.00,1290.40 C324.47,1290.40 324.93,1285.34 325.40,1284.80 C327.07,1282.87 328.73,1281.90 330.40,1281.90 C332.13,1281.90 333.87,1283.36 335.60,1284.40 C336.87,1285.16 338.13,1287.00 339.40,1287.00 C340.27,1287.00 341.13,1284.83 342.00,1284.40 C343.73,1283.53 345.47,1283.97 347.20,1283.10 C348.07,1282.67 348.93,1261.80 349.80,1261.80 C350.67,1261.80 351.53,1284.40 352.40,1284.40 C353.70,1284.40 355.00,1274.10 356.30,1274.10 C357.37,1274.10 358.43,1284.40 359.50,1284.40 C360.17,1284.40 360.83,1277.77 361.50,1275.40 C362.57,1271.61 363.63,1268.90 364.70,1268.90 C365.57,1268.90 366.43,1284.83 367.30,1285.70 C368.17,1286.57 369.03,1287.00 369.90,1287.00 C370.57,1287.00 371.23,1235.80 371.90,1235.80 C372.77,1235.80 373.63,1284.04 374.50,1287.00 C375.77,1291.33 377.03,1289.99 378.30,1293.50 C379.17,1295.90 380.03,1302.45 380.90,1302.60 C383.93,1303.13 386.97,1303.40 390.00,1303.40 C416.93,1303.40 443.87,1303.40 470.80,1303.40 C471.13,1303.40 471.47,1295.00 471.80,1295.00 C472.13,1295.00 472.47,1303.40 472.80,1303.40 C487.70,1303.40 502.60,1303.40 517.50,1303.40" fill="none" stroke="#f58ac4" stroke-width="3" stroke-linejoin="round" stroke-linecap="round"/>
<path d="M150.40,1610.00 C160.77,1610.00 171.13,1610.00 181.50,1610.00 C182.37,1610.00 183.23,1602.20 184.10,1602.20 C194.90,1602.20 205.70,1602.20 216.50,1602.20 C216.93,1602.20 217.37,1610.00 217.80,1610.00 C230.33,1610.00 242.87,1610.00 255.40,1610.00 C255.83,1610.00 256.27,1602.20 256.70,1602.20 C271.80,1602.20 286.90,1602.20 302.00,1602.20 C302.43,1602.20 302.87,1610.00 303.30,1610.00 C317.57,1610.00 331.83,1610.00 346.10,1610.00 C346.53,1610.00 346.97,1602.20 347.40,1602.20 C359.50,1602.20 371.60,1602.20 383.70,1602.20 C384.57,1602.20 385.43,1594.80 386.30,1594.40 C388.03,1593.60 389.77,1594.00 391.50,1593.20 C392.37,1592.80 393.23,1588.22 394.10,1586.70 C394.97,1585.18 395.83,1585.83 396.70,1584.10 C397.57,1582.37 398.43,1571.53 399.30,1571.10 C401.03,1570.23 402.77,1570.67 404.50,1569.80 C405.40,1569.35 406.30,1563.57 407.20,1560.50 C408.40,1556.41 409.60,1553.61 410.80,1548.40 C411.60,1544.92 412.40,1540.40 413.20,1536.40 C414.00,1532.40 414.80,1527.73 415.60,1524.40 C417.23,1517.59 418.87,1518.72 420.50,1512.30 C421.70,1507.59 422.90,1500.32 424.10,1494.30 C425.30,1488.28 426.50,1483.23 427.70,1476.20 C428.90,1469.17 430.10,1460.71 431.30,1452.10 C432.10,1446.36 432.90,1441.12 433.70,1434.10 C434.50,1427.08 435.30,1417.67 436.10,1410.00 C438.07,1391.14 440.03,1376.40 442.00,1360.00 C444.03,1343.05 446.07,1334.04 448.10,1310.00 C448.90,1300.54 449.70,1287.83 450.50,1278.20 C451.80,1262.55 453.10,1251.86 454.40,1238.90 C456.00,1222.95 457.60,1205.88 459.20,1191.70 C460.50,1180.18 461.80,1173.32 463.10,1160.20 C464.40,1147.08 465.70,1127.12 467.00,1113.00 C468.07,1101.41 469.13,1091.78 470.20,1081.50 C471.13,1072.50 472.07,1064.00 473.00,1055.00 C473.53,1049.86 474.07,1044.12 474.60,1039.40 C475.40,1032.32 476.20,1026.40 477.00,1021.40 C477.80,1016.40 478.60,1017.40 479.40,1009.40 C479.80,1005.40 480.20,996.96 480.60,991.30 C481.23,982.34 481.87,975.36 482.50,967.20 C482.90,962.05 483.30,953.60 483.70,951.60 C484.50,947.60 485.30,949.60 486.10,945.60 C486.50,943.60 486.90,937.10 487.30,937.10 L487.30,922.70 C487.70,922.70 488.10,918.01 488.50,917.90 C489.90,917.50 491.30,917.70 492.70,917.30 C493.50,917.07 494.30,914.30 495.10,914.30 L495.10,910.00 C502.73,910.00 510.37,910.00 518.00,910.00" fill="none" stroke="#72e493" stroke-width="5.4" stroke-linejoin="round"/>
<path d="M519,910.8 V1698" stroke="#ffffff" stroke-width="3"/></svg>

<!-- fullscreen button -->
<div class="a" style="left:890.4px;top:1604px;width:120.3px;height:76.7px;background:#28292b;border-radius:19px"></div>
<svg class="a" style="left:880px;top:1590px" width="140" height="100" viewBox="880 1590 140 100">
 <path d="M929,1698 V1604" stroke="#3b3e42" stroke-width="2" stroke-dasharray="8.5 8.1"/>
 <g fill="none" stroke="#ececf0" stroke-width="4.6" stroke-linecap="butt" stroke-linejoin="miter">
  <path d="M932.2,1636.2 V1625.3 H943.8"/>
  <path d="M956.6,1625.3 H968.9 V1636.2"/>
  <path d="M932.2,1646.9 V1657.7 H943.8"/>
  <path d="M956.6,1657.7 H968.9 V1646.9"/>
 </g>
</svg>

<!-- tooltip -->
<div class="a" style="left:527.9px;top:883px;width:108.4px;height:72.9px;background:#ffffff;border-radius:10px"></div>

<!-- rows -->
<div class="a" style="left:44px;top:1807px;width:992px;height:122px;background:#1e1e20;border-radius:27px"></div>
<div class="a" style="left:44px;top:2036px;width:992px;height:400px;background:#1e1e20;border-radius:27px"></div>
<div class="a" style="left:182px;top:2156.6px;width:810px;height:1.6px;background:#3a3a3e"></div>
<svg class="a" style="left:80px;top:1830px" width="80" height="420" viewBox="80 1830 80 420">
 <circle cx="118.4" cy="1867.3" r="24.6" fill="#6bd888"/>
 <circle cx="118.4" cy="2096.3" r="24.5" fill="#8b3dfb"/>
 <circle cx="118.4" cy="2218.5" r="24.5" fill="#38aff8"/>
 <g fill="none" stroke="#1e1e20" stroke-width="3.4" stroke-linejoin="miter">
  <path d="M104.4,1866.2 L114.7,1875.9 L132.7,1858.1"/>
  <path d="M104.4,2095.2 L114.7,2104.9 L132.7,2087.1"/>
  <path d="M104.4,2217.4 L114.7,2227.1 L132.7,2209.3"/>
 </g>
</svg>

<!-- texts -->
<div class="t" style="left:0;top:29.2px;font-size:41.59px;color:#e6e6e6;-webkit-text-stroke:1.2px #e6e6e6;"><span style="position:absolute;left:52.9px;top:0;transform:scaleX(0.78);transform-origin:0 0;">1</span><span style="position:absolute;left:68.9px;top:0;transform:scaleX(0.78);transform-origin:0 0;">1</span><span style="position:absolute;left:87.5px;top:0;">:</span><span style="position:absolute;left:98.2px;top:0;">2</span><span style="position:absolute;left:120.2px;top:0;">3</span></div>
<div class="t" style="left:98.6px;top:142.3px;font-size:49.28px;color:#4a8af5;transform:scaleX(0.986);">Back</div>
<div class="t" style="left:451.5px;top:142.1px;font-size:50.72px;color:#ececf0;transform:scaleX(0.943);">Analysis</div>
<div class="t" style="left:111.2px;top:299.3px;font-size:42.46px;color:#ececf0;transform:scaleX(0.935);">Day</div>
<div class="t" style="left:294.6px;top:299.3px;font-size:42.46px;color:#9d9da8;transform:scaleX(0.912);">Week</div>
<div class="t" style="left:479.1px;top:299.3px;font-size:42.46px;color:#9d9da8;transform:scaleX(1.014);">Month</div>
<div class="t" style="left:698.0px;top:299.3px;font-size:42.46px;color:#9d9da8;transform:scaleX(0.904);">Year</div>
<div class="t" style="left:889.2px;top:299.3px;font-size:42.46px;color:#9d9da8;transform:scaleX(0.977);">Total</div>
<div class="t" style="left:315.4px;top:447.8px;font-size:51.01px;color:#ececf0;transform:scaleX(0.956);">23 Mar 2026 (Today)</div>
<div class="t" style="left:87.8px;top:689.3px;font-size:36.96px;color:#ececf0;transform:scaleX(1.017);">PV Production</div>
<div class="t" style="left:448.0px;top:689.3px;font-size:37.25px;color:#ececf0;transform:scaleX(1.009);">Load Consumption</div>
<div class="t" style="left:88.0px;top:751.4px;font-size:58.57px;color:#f0f0f4;transform:scaleX(0.940);letter-spacing:-2.38px;">24.10</div>
<div class="t" style="left:225.2px;top:764.4px;font-size:43.17px;color:#f0f0f4;transform:scaleX(0.985);">kWh</div>
<div class="t" style="left:447.9px;top:751.8px;font-size:58.14px;color:#f0f0f4;transform:scaleX(0.940);letter-spacing:-1.10px;">14.90</div>
<div class="t" style="left:589.1px;top:764.4px;font-size:43.17px;color:#f0f0f4;transform:scaleX(0.979);">kWh</div>
<div class="t" style="left:883.3px;top:751.0px;font-size:59.00px;color:#f0f0f4;transform:scaleX(0.940);letter-spacing:0.68px;">13.80</div>
<div class="t" style="left:1030.6px;top:764.4px;font-size:43.17px;color:#f0f0f4;transform:scaleX(0.979);">kWh</div>
<div class="t" style="left:884.0px;top:688.6px;font-size:37.97px;color:#ececf0;transform:scaleX(1.010);">Battery Charge</div>
<div class="t" style="left:52.8px;top:893.7px;font-size:33.43px;color:#a3a3ad;transform:scaleX(0.872);">12 kW</div>
<div class="t" style="left:64.9px;top:1090.8px;font-size:33.43px;color:#a3a3ad;transform:scaleX(0.926);">6 kW</div>
<div class="t" style="left:64.6px;top:1287.5px;font-size:33.43px;color:#a3a3ad;transform:scaleX(0.930);">0 kW</div>
<div class="t" style="left:64.9px;top:1484.2px;font-size:33.43px;color:#a3a3ad;transform:scaleX(0.926);">6 kW</div>
<div class="t" style="left:52.8px;top:1681.0px;font-size:33.43px;color:#a3a3ad;transform:scaleX(0.872);">12 kW</div>
<div class="t" style="left:942.4px;top:893.7px;font-size:33.43px;color:#a3a3ad;transform:scaleX(0.906);">100 %</div>
<div class="t" style="left:942.4px;top:1090.8px;font-size:33.43px;color:#a3a3ad;transform:scaleX(0.913);">75 %</div>
<div class="t" style="left:944.0px;top:1287.5px;font-size:33.43px;color:#a3a3ad;transform:scaleX(0.933);">50 %</div>
<div class="t" style="left:943.3px;top:1483.7px;font-size:33.43px;color:#a3a3ad;transform:scaleX(0.920);">25 %</div>
<div class="t" style="left:943.6px;top:1681.0px;font-size:33.43px;color:#a3a3ad;transform:scaleX(0.928);">0 %</div>
<div class="t" style="left:141.5px;top:1718.9px;font-size:31.98px;color:#a3a3ad;transform:scaleX(0.870);">0</div>
<div class="t" style="left:271.3px;top:1718.9px;font-size:31.98px;color:#a3a3ad;transform:scaleX(0.870);">4</div>
<div class="t" style="left:401.5px;top:1718.9px;font-size:31.98px;color:#a3a3ad;transform:scaleX(0.870);">8</div>
<div class="t" style="left:523.0px;top:1718.9px;font-size:31.98px;color:#a3a3ad;transform:scaleX(0.870);">12</div>
<div class="t" style="left:653.1px;top:1718.9px;font-size:31.98px;color:#a3a3ad;transform:scaleX(0.870);">16</div>
<div class="t" style="left:783.4px;top:1718.9px;font-size:31.98px;color:#a3a3ad;transform:scaleX(0.870);">20</div>
<div class="t" style="left:181.1px;top:1845.3px;font-size:44.06px;color:#a6a6b0;transform:scaleX(0.960);">Battery SOC</div>
<div class="t" style="left:875.0px;top:1839.6px;font-size:52.43px;color:#f0f0f4;transform:scaleX(0.940);letter-spacing:-1.03px;">100</div>
<div class="t" style="left:961.4px;top:1850.1px;font-size:40.00px;color:#f0f0f4;transform:scaleX(0.857);">%</div>
<div class="t" style="left:86.6px;top:1977.8px;font-size:39.86px;color:#9a9aa4;transform:scaleX(0.826);">SUPPLY</div>
<div class="t" style="left:181.4px;top:2074.2px;font-size:45.07px;color:#a6a6b0;transform:scaleX(0.924);">Solar</div>
<div class="t" style="left:835.0px;top:2068.7px;font-size:51.86px;color:#f0f0f4;letter-spacing:-0.63px;">8.59</div>
<div class="t" style="left:937.9px;top:2080.3px;font-size:38.21px;color:#f0f0f4;transform:scaleX(0.938);">kW</div>
<div class="t" style="left:179.8px;top:2196.5px;font-size:44.78px;color:#a6a6b0;transform:scaleX(0.966);">Battery Discharge</div>
<div class="t" style="left:835.3px;top:2191.0px;font-size:51.00px;color:#f0f0f4;letter-spacing:-0.19px;">0.09</div>
<div class="t" style="left:937.9px;top:2202.4px;font-size:37.52px;color:#f0f0f4;transform:scaleX(0.956);">kW</div>
<div class="t" style="left:0;top:899.7px;font-size:40.14px;color:#111111;-webkit-text-stroke:1.0px #111111;"><span style="position:absolute;left:538.6px;top:0;transform:scaleX(0.78);transform-origin:0 0;">1</span><span style="position:absolute;left:554.8px;top:0;transform:scaleX(0.78);transform-origin:0 0;">1</span><span style="position:absolute;left:573.6px;top:0;">:</span><span style="position:absolute;left:584.1px;top:0;">2</span><span style="position:absolute;left:603.7px;top:0;transform:scaleX(0.78);transform-origin:0 0;">1</span></div>

<!-- nav bar -->
<div class="a" style="left:0;top:2269.5px;width:1080px;height:131px;background:#1e1e20"></div>
<svg class="a" style="left:0;top:2270px" width="1080" height="130" viewBox="0 2270 1080 130">
 <rect x="280.7" y="2311.3" width="39.2" height="39.4" rx="8" fill="#a6a6a6"/>
 <circle cx="535" cy="2331" r="24.5" fill="none" stroke="#a6a6a6" stroke-width="4.4"/>
 <circle cx="535" cy="2331" r="14.6" fill="#a6a6a6"/>
 <path d="M784,2310 Q786.1,2308.6 786.1,2311.5 V2350.5 Q786.1,2353.4 783.6,2352 L753,2333.2 Q750.2,2331.3 753,2329.4 Z" fill="#a6a6a6"/>
 <circle cx="948.9" cy="2314.9" r="7.9" fill="#a6a6a6"/>
 <path d="M930.5,2325.8 Q948.9,2333 967.3,2325.8 Q972.5,2324.5 970.5,2331 L951.2,2352 Q948.9,2354.2 946.6,2352 L927.3,2331 Q925.3,2324.5 930.5,2325.8 Z" fill="#a6a6a6"/>
</svg>
</body></html>
